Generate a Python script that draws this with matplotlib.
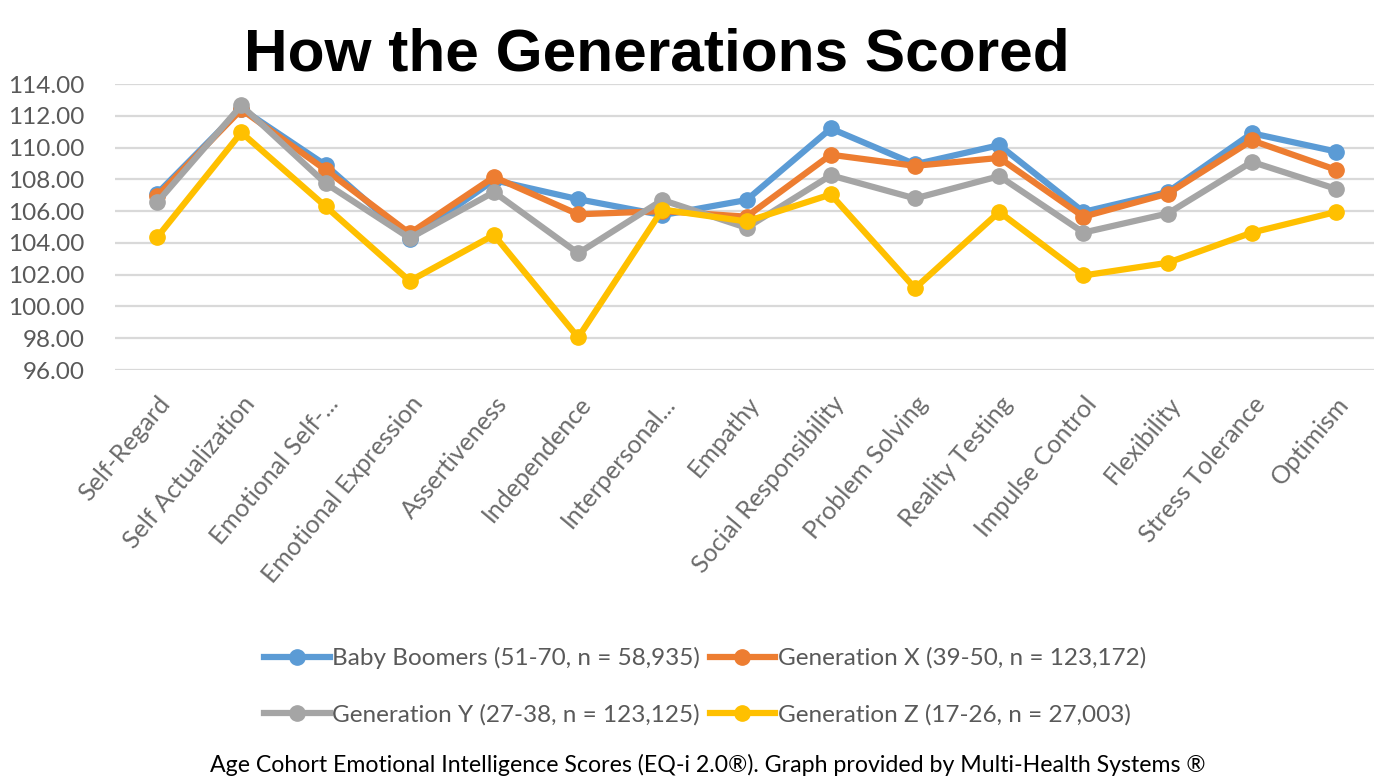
import matplotlib.pyplot as plt
from matplotlib.ticker import MultipleLocator, FormatStrFormatter

# EQ-i 2.0 subscales along the x axis
scales = ["Self-Regard", "Self Actualization", "Emotional Self-...",
          "Emotional Expression", "Assertiveness", "Independence",
          "Interpersonal...", "Empathy", "Social Responsibility",
          "Problem Solving", "Reality Testing", "Impulse Control",
          "Flexibility", "Stress Tolerance", "Optimism"]

# mean scores for each age cohort
boomers = [107.10, 112.45, 108.90, 104.25, 107.95, 106.75, 105.75, 106.70,
           111.20, 108.95, 110.15, 105.95, 107.20, 110.90, 109.75]
gen_x = [106.95, 112.40, 108.60, 104.60, 108.15, 105.80, 106.00, 105.65,
         109.55, 108.85, 109.35, 105.65, 107.10, 110.45, 108.60]
gen_y = [106.55, 112.65, 107.75, 104.30, 107.20, 103.35, 106.70, 104.95,
         108.25, 106.80, 108.20, 104.65, 105.85, 109.10, 107.40]
gen_z = [104.35, 110.95, 106.30, 101.60, 104.50, 98.05, 106.10, 105.35,
         107.05, 101.15, 105.95, 101.95, 102.75, 104.65, 105.95]

series = [
    ("Baby Boomers (51-70, n = 58,935)", boomers, "#5B9BD5"),
    ("Generation X (39-50, n = 123,172)", gen_x, "#ED7D31"),
    ("Generation Y (27-38, n = 123,125)", gen_y, "#A5A5A5"),
    ("Generation Z (17-26, n = 27,003)", gen_z, "#FFC000"),
]

plt.rcParams['font.family'] = ['Lato', 'DejaVu Sans']

fig = plt.figure(figsize=(13.74, 7.8), dpi=100)
ax = fig.add_axes([0.0837, 0.5256, 0.9163, 0.3667])

x = list(range(len(scales)))
for label, vals, col in series:
    ax.plot(x, vals, color=col, lw=4.5, marker="o", ms=11,
            solid_joinstyle="round", label=label, zorder=3)

ax.set_ylim(96, 114)
ax.set_xlim(-0.5, 14.45)
ax.yaxis.set_major_locator(MultipleLocator(2))
ax.yaxis.set_major_formatter(FormatStrFormatter("%.2f"))
ax.grid(axis="y", color="#D9D9D9", lw=1.6, zorder=0)
for s in ax.spines.values():
    s.set_visible(False)
ax.tick_params(length=0, colors="#595959")
ax.tick_params(axis="y", pad=22, labelsize=17.5)
ax.set_xticks(x)
ax.set_xticklabels(scales, rotation=50, ha="right", rotation_mode="anchor",
                   fontsize=18, color="#6b6b6b")
ax.tick_params(axis="x", pad=16)

fig.text(0.478, 0.93, "How the Generations Scored", ha="center", va="center",
         fontsize=43.5, fontweight="bold", family="Liberation Sans")

# legend fills column-wise, so order entries to read row by row
handles, labels = ax.get_legend_handles_labels()
order = [0, 2, 1, 3]
fig.legend([handles[i] for i in order], [labels[i] for i in order],
           ncol=2, loc="center", bbox_to_anchor=(0.513, 0.12),
           frameon=False, fontsize=17.5, labelcolor="#595959",
           handlelength=2.7, handletextpad=0.1, columnspacing=0.4,
           labelspacing=1.45)

fig.text(0.515, 0.019, "Age Cohort Emotional Intelligence Scores (EQ-i 2.0\u00ae). "
         "Graph provided by Multi-Health Systems \u00ae",
         ha="center", va="center", fontsize=16.7, color="black")

fig.savefig("out.png", dpi=100)
